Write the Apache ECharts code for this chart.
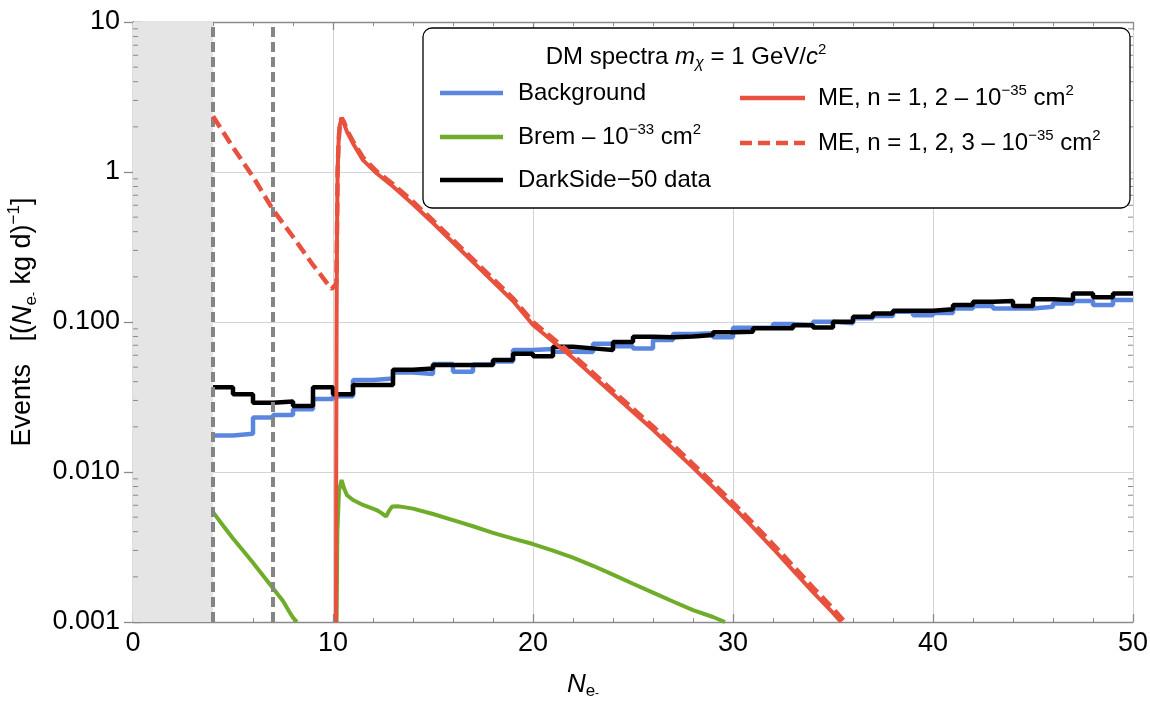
<!DOCTYPE html>
<html><head><meta charset="utf-8">
<script src="https://cdn.jsdelivr.net/npm/echarts@6/dist/echarts.min.js"></script>
<style>html,body{margin:0;padding:0;background:#fff}#c{width:1150px;height:702px}</style>
</head><body><div id="c"></div><script>
// ---------------- DATA ----------------
const binStarts = [4,5,6,7,8,9,10,11,12,13,14,15,16,17,18,19,20,21,22,23,24,25,26,27,28,29,30,31,32,33,34,35,36,37,38,39,40,41,42,43,44,45,46,47,48,49];
const binEnd = 50;
const backgroundVals = [0.0175,0.018,0.0231,0.024,0.0262,0.0307,0.032,0.041,0.042,0.046,0.045,0.0525,0.0466,0.052,0.0545,0.065,0.066,0.0634,0.063,0.0715,0.069,0.0667,0.0758,0.0832,0.084,0.079,0.0917,0.0917,0.097,0.095,0.1005,0.098,0.106,0.1096,0.117,0.111,0.115,0.123,0.128,0.123,0.123,0.1265,0.133,0.138,0.13,0.14];
const darksideVals = [0.0367,0.033,0.029,0.0295,0.0275,0.0367,0.033,0.038,0.038,0.048,0.049,0.0517,0.0517,0.0517,0.0558,0.0615,0.059,0.0685,0.0667,0.065,0.0735,0.0798,0.079,0.080,0.0818,0.0853,0.086,0.0908,0.091,0.095,0.092,0.1005,0.1085,0.114,0.119,0.119,0.1216,0.13,0.1366,0.138,0.128,0.1416,0.14,0.155,0.146,0.155];

const bremX = [4,4.5,5,5.5,6,6.5,7,7.5,7.8,8.0,8.2, null, 10.18,10.22,10.3,10.43,10.55,10.7,11.0,11.5,12.18,12.45,12.65,12.8,12.95,13.3,14,15,16,17,18,19,20,21,22,23,24,25,26,27,28,29,29.6];
const bremY = [0.0054,0.0044,0.0036,0.0030,0.00248,0.00204,0.00168,0.00138,0.00118,0.00107,0.001, null, 0.001,0.004,0.0075,0.00885,0.0078,0.0070,0.0065,0.00603,0.00558,0.0053,0.00505,0.0055,0.00588,0.0059,0.0057,0.00525,0.00478,0.00435,0.00393,0.0036,0.00331,0.00299,0.00269,0.00237,0.00207,0.0018,0.00157,0.00137,0.0012,0.00108,0.001];

const me12X = [10.15,10.16,10.18,10.2,10.23,10.28,10.34,10.43,10.55,10.7,11.0,11.5,12.18,13,14,15,16,17,18,19,20,21,22,23,24,25,26,27,28,29,30,31,32,33,34,35,35.4];
const me12Y = [0.001,0.01,0.1,0.4,1.0,1.6,2.05,2.28,2.1,1.85,1.55,1.2,0.98,0.80,0.61,0.457,0.339,0.251,0.186,0.138,0.0955,0.0741,0.0575,0.0437,0.0331,0.0251,0.0191,0.0143,0.0107,0.00794,0.00587,0.00427,0.00309,0.00221,0.00158,0.00115,0.001];

const me123X = [4,5,6,7,8,9,9.93,10.17,10.2,10.23,10.28,10.34,10.43,10.55,10.7,11.0,11.5,12.18,13,14,15,16,17,18,19,20,21,22,23,24,25,26,27,28,29,30,31,32,33,34,35,35.6];
const me123Y = [2.35,1.46,0.93,0.56,0.37,0.24,0.166,0.18,0.4,1.0,1.6,2.08,2.3,2.15,1.9,1.6,1.25,1.01,0.83,0.635,0.475,0.352,0.262,0.194,0.144,0.1,0.0775,0.0602,0.0458,0.0347,0.0264,0.0201,0.0151,0.0113,0.0084,0.00622,0.00455,0.0033,0.00237,0.0017,0.00123,0.001];

const thresholdLines = [4, 7];
const excludedRange = [0, 4];
const xTickValues = [0,10,20,30,40,50];
const yTickLabels = {'1':'10','0':'1','-1':'0.100','-2':'0.010','-3':'0.001'};
const seriesNames = ['Background','Brem','DarkSide\u221250 data','ME, n = 1, 2','ME, n = 1, 2, 3'];

// ---------------- BUILD ----------------
const COL_BLUE = '#5b86e0', COL_GREEN = '#6fac2a', COL_BLACK = '#000000', COL_RED = '#e8513e';
const FONT = '"Liberation Sans", Arial, sans-serif';

function stepData(vals){
  const d = binStarts.map((n,i)=>[n, vals[i]]);
  d.push([binEnd, vals[vals.length-1]]);
  return d;
}
function pairData(xs, ys){
  return xs.map((x,i)=> x===null ? ['-','-'] : [x, ys[i]]);
}
const minorTickVals = [];
for (let e=-3; e<1; e++) for (let m=2; m<=9; m++) minorTickVals.push([m*Math.pow(10,e)]);

const chart = echarts.init(document.getElementById('c'), null, {renderer:'canvas'});

const frameColor = '#8a8a8a';
const gridColor = '#d4d4d4';

const baseX = {
  type:'value', min:0, max:50, interval:10,
  axisLine:{show:true, lineStyle:{color:frameColor, width:1.3}},
  axisTick:{show:true, inside:true, length:8, lineStyle:{color:frameColor, width:1.3}},
  minorTick:{show:true, splitNumber:5, length:4, lineStyle:{color:frameColor, width:1}},
  splitLine:{show:false}
};
const baseY = {
  type:'log', logBase:10, min:0.001, max:10,
  axisLine:{show:true, lineStyle:{color:frameColor, width:1.3}},
  axisTick:{show:true, inside:true, length:9, lineStyle:{color:frameColor, width:1.3}},
  splitLine:{show:false}
};

const LF = 24; // legend font size
const supStyle = {fontSize:15, verticalAlign:'top', lineHeight:15, fontFamily:FONT};

const option = {
  animation:false,
  backgroundColor:'#fff',
  grid:{left:133, right:17, top:22, bottom:80, containLabel:false, outerBoundsMode:'none'},
  xAxis:[
    Object.assign({}, baseX, {
      position:'bottom',
      splitLine:{show:true, lineStyle:{color:gridColor, width:1}},
      axisLabel:{show:true, fontSize:27, color:'#000', margin:8, fontFamily:FONT,
        formatter:(v)=> xTickValues.indexOf(v)>=0 ? String(v) : ''},
      name:'{i|N}{sub|e}{sup2|-}', nameLocation:'middle', nameGap:48,
      nameTextStyle:{fontSize:26, color:'#000', fontFamily:FONT, padding:[0,100,0,0],
        rich:{
          i:{fontSize:26, fontStyle:'italic', fontFamily:FONT, lineHeight:30, verticalAlign:'middle'},
          sub:{fontSize:17, verticalAlign:'bottom', lineHeight:20, fontFamily:FONT},
          sup2:{fontSize:12, verticalAlign:'bottom', lineHeight:30, fontFamily:FONT}
        }}
    }),
    Object.assign({}, baseX, {position:'top', axisLabel:{show:false}})
  ],
  yAxis:[
    Object.assign({}, baseY, {
      position:'left',
      splitLine:{show:true, lineStyle:{color:gridColor, width:1}},
      axisLabel:{show:true, fontSize:27, color:'#000', margin:13, fontFamily:FONT,
        formatter:(v)=>{ const k = String(Math.round(Math.log10(v))); return yTickLabels[k] || ''; }},
      name:'{n|Events   [(}{i|N}{sub|e}{sup2|-}{n| kg d)}{sup|\u22121}{n|]}',
      nameLocation:'middle', nameGap:93,
      nameTextStyle:{fontSize:27, color:'#000', fontFamily:FONT,
        rich:{
          n:{fontSize:27, fontFamily:FONT, lineHeight:32, verticalAlign:'middle'},
          i:{fontSize:27, fontStyle:'italic', fontFamily:FONT, lineHeight:32, verticalAlign:'middle'},
          sub:{fontSize:17, verticalAlign:'bottom', lineHeight:20, fontFamily:FONT},
          sup2:{fontSize:12, verticalAlign:'bottom', lineHeight:34, fontFamily:FONT},
          sup:{fontSize:17, verticalAlign:'top', lineHeight:16, fontFamily:FONT}
        }}
    }),
    Object.assign({}, baseY, {position:'right', axisLabel:{show:false}})
  ],
  series:[
    {
      type:'line', data:[], silent:true, z:1,
      markArea:{silent:true, itemStyle:{color:'#e5e5e5'}, data:[[{xAxis:excludedRange[0]},{xAxis:excludedRange[1]}]]}
    },
    {
      type:'custom', silent:true, z:2, data:minorTickVals,
      renderItem:(params, api)=>{
        const v = api.value(0);
        const pl = api.coord([0, v]);
        const pr = api.coord([50, v]);
        const st = {stroke:frameColor, lineWidth:1};
        return {type:'group', children:[
          {type:'line', shape:{x1:pl[0], y1:pl[1], x2:pl[0]+5, y2:pl[1]}, style:st},
          {type:'line', shape:{x1:pr[0], y1:pr[1], x2:pr[0]-5, y2:pr[1]}, style:st}
        ]};
      },
      clip:false
    },
    {
      name:seriesNames[0], type:'line', step:'end', data:stepData(backgroundVals),
      showSymbol:false, symbol:'none', z:3,
      lineStyle:{color:COL_BLUE, width:4.5}
    },
    {
      name:seriesNames[1], type:'line', data:pairData(bremX, bremY), connectNulls:false,
      showSymbol:false, symbol:'none', z:3,
      lineStyle:{color:COL_GREEN, width:4}
    },
    {
      name:seriesNames[2], type:'line', step:'end', data:stepData(darksideVals),
      showSymbol:false, symbol:'none', z:4,
      lineStyle:{color:COL_BLACK, width:4.5}
    },
    {
      type:'line', data:[], silent:true, z:5,
      markLine:{silent:true, symbol:['none','none'], label:{show:false},
        lineStyle:{color:'#858585', width:4, type:[10,5]},
        data: thresholdLines.map(x=>({xAxis:x}))}
    },
    {
      name:seriesNames[3], type:'line', data:pairData(me12X, me12Y),
      showSymbol:false, symbol:'none', z:6,
      lineStyle:{color:COL_RED, width:4}
    },
    {
      name:seriesNames[4], type:'line', data:pairData(me123X, me123Y),
      showSymbol:false, symbol:'none', z:7,
      lineStyle:{color:COL_RED, width:4.5, type:[13,6]}
    }
  ],
  graphic:[
    {type:'rect', z:100, shape:{x:423, y:28, width:707, height:180, r:9},
      style:{fill:'#fff', stroke:'#000', lineWidth:1.3}},
    {type:'text', z:101, x:686, y:57, style:{
      text:'{n|DM spectra }{i|m}{isub|\u03c7}{n| = 1 GeV/}{i|c}{sup|2}',
      align:'center', verticalAlign:'middle', fontFamily:FONT, fontSize:LF, fill:'#000',
      rich:{n:{fontSize:LF, fontFamily:FONT, lineHeight:30},
            i:{fontSize:LF, fontStyle:'italic', fontFamily:FONT, lineHeight:30},
            isub:{fontSize:16, fontStyle:'italic', fontFamily:FONT, verticalAlign:'bottom', lineHeight:16},
            sup:supStyle}}},
    {type:'line', z:101, shape:{x1:440, y1:93, x2:503, y2:93}, style:{stroke:COL_BLUE, lineWidth:4.5}},
    {type:'text', z:101, x:518, y:93, style:{text:seriesNames[0], verticalAlign:'middle', fontFamily:FONT, fontSize:LF, fill:'#000'}},
    {type:'line', z:101, shape:{x1:440, y1:137, x2:503, y2:137}, style:{stroke:COL_GREEN, lineWidth:4.5}},
    {type:'text', z:101, x:518, y:137, style:{
      text:'{n|Brem \u2013 10}{sup|\u221233}{n| cm}{sup|2}', verticalAlign:'middle', fontFamily:FONT, fontSize:LF, fill:'#000',
      rich:{n:{fontSize:LF, fontFamily:FONT, lineHeight:30}, sup:supStyle}}},
    {type:'line', z:101, shape:{x1:440, y1:180, x2:503, y2:180}, style:{stroke:COL_BLACK, lineWidth:4.5}},
    {type:'text', z:101, x:518, y:180, style:{text:seriesNames[2], verticalAlign:'middle', fontFamily:FONT, fontSize:LF, fill:'#000'}},
    {type:'line', z:101, shape:{x1:740, y1:98, x2:805, y2:98}, style:{stroke:COL_RED, lineWidth:4.5}},
    {type:'text', z:101, x:818, y:98, style:{
      text:'{n|ME, n = 1, 2 \u2013 10}{sup|\u221235}{n| cm}{sup|2}', verticalAlign:'middle', fontFamily:FONT, fontSize:LF, fill:'#000',
      rich:{n:{fontSize:LF, fontFamily:FONT, lineHeight:30}, sup:supStyle}}},
    {type:'line', z:101, shape:{x1:740, y1:143, x2:805, y2:143}, style:{stroke:COL_RED, lineWidth:4.5, lineDash:[12,6]}},
    {type:'text', z:101, x:818, y:143, style:{
      text:'{n|ME, n = 1, 2, 3 \u2013 10}{sup|\u221235}{n| cm}{sup|2}', verticalAlign:'middle', fontFamily:FONT, fontSize:LF, fill:'#000',
      rich:{n:{fontSize:LF, fontFamily:FONT, lineHeight:30}, sup:supStyle}}}
  ]
};
chart.setOption(option);
</script></body></html>
